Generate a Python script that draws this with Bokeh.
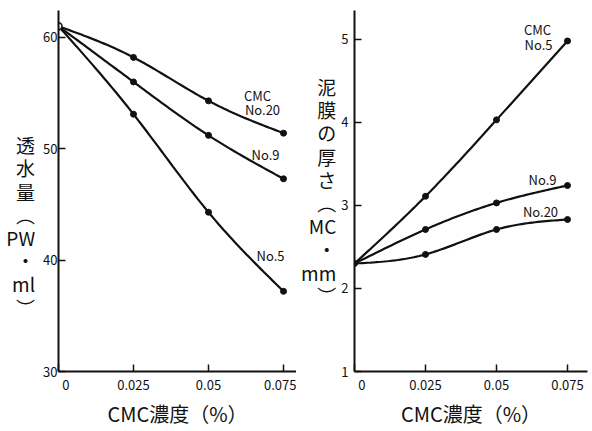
import numpy as np
from bokeh.plotting import figure
from bokeh.layouts import row
from bokeh.models import FixedTicker, Label, Range1d
from bokeh.embed import file_html
from bokeh.resources import INLINE

# ---------------- data ----------------
conc = [0.0, 0.025, 0.05, 0.075]
x_ticks = [0.0, 0.025, 0.05, 0.075]
x_tick_labels = ["\u00a0\u00a0\u00a0\u00a0\u00a00", "0.025", "0.05", "0.075"]

# left: 透水量 (PW・ml)
perm_no20 = [61.0, 58.2, 54.3, 51.4]
perm_no9 = [61.0, 56.0, 51.2, 47.3]
perm_no5 = [61.0, 53.1, 44.3, 37.2]
left_yticks = [30, 40, 50, 60]

# right: 泥膜の厚さ (MC・mm)
cake_no5 = [2.30, 3.11, 4.03, 4.98]
cake_no9 = [2.30, 2.71, 3.03, 3.24]
cake_no20 = [2.30, 2.41, 2.71, 2.83]
right_yticks = [1, 2, 3, 4, 5]

left_ylabel = ["\u3000", "\u3000", "\u3000", "透", "水", "量", "︵", "PW", "・", "ml", "︶"]
right_ylabel = ["泥", "膜", "の", "厚", "さ", "︵", "MC", "・", "mm", "︶"]
xlabel = "CMC濃度（%）"

JP = "Noto Sans CJK JP"
INK = "#111111"


def spline(xs, ys, n=80):
    xs = np.asarray(xs, float)
    ys = np.asarray(ys, float)
    m = len(xs)
    h = np.diff(xs)
    A = np.zeros((m, m))
    b = np.zeros(m)
    A[0, 0] = 1
    A[-1, -1] = 1
    for i in range(1, m - 1):
        A[i, i - 1] = h[i - 1]
        A[i, i] = 2 * (h[i - 1] + h[i])
        A[i, i + 1] = h[i]
        b[i] = 6 * ((ys[i + 1] - ys[i]) / h[i] - (ys[i] - ys[i - 1]) / h[i - 1])
    M = np.linalg.solve(A, b)
    xx = np.linspace(xs[0], xs[-1], n)
    yy = np.empty_like(xx)
    for k, x in enumerate(xx):
        i = min(np.searchsorted(xs, x, side="right") - 1, m - 2)
        t0 = xs[i + 1] - x
        t1 = x - xs[i]
        yy[k] = (M[i] * t0 ** 3 / (6 * h[i]) + M[i + 1] * t1 ** 3 / (6 * h[i])
                 + (ys[i] / h[i] - M[i] * h[i] / 6) * t0
                 + (ys[i + 1] / h[i] - M[i + 1] * h[i] / 6) * t1)
    return xx, yy


def style(p, yticks, ylabel, ystandoff, lstandoff):
    p.xaxis.ticker = FixedTicker(ticks=x_ticks)
    p.yaxis.ticker = FixedTicker(ticks=yticks)
    p.xaxis.major_label_overrides = {t: l for t, l in zip(x_ticks, x_tick_labels)}
    for ax in (p.xaxis[0], p.yaxis[0]):
        ax.axis_line_width = 2
        ax.axis_line_color = INK
        ax.major_tick_in = 7
        ax.major_tick_out = 0
        ax.major_tick_line_width = 1.5
        ax.major_tick_line_color = INK
        ax.minor_tick_in = 0
        ax.minor_tick_out = 0
        ax.major_label_text_font = JP
        ax.major_label_text_font_size = "13px"
        ax.major_label_text_color = INK
        ax.axis_label_text_font = JP
        ax.axis_label_text_font_style = "normal"
        ax.axis_label_text_color = INK
    p.xaxis.major_label_standoff = 3
    p.yaxis.major_label_standoff = ystandoff
    p.xaxis.axis_label = xlabel
    p.xaxis.axis_label_text_font_size = "20px"
    p.xaxis.axis_label_standoff = 2
    p.yaxis.axis_label = "\n".join(ylabel)
    p.yaxis.axis_label_orientation = "horizontal"
    p.yaxis.axis_label_text_font_size = "19px"
    p.yaxis.axis_label_text_line_height = 0.86
    p.yaxis.axis_label_text_align = "center"
    p.yaxis.axis_label_standoff = lstandoff
    p.xgrid.visible = False
    p.ygrid.visible = False
    p.outline_line_color = None


def curve(p, xs, ys):
    xx, yy = spline(xs, ys)
    p.line(xx, yy, line_width=2.2, line_color=INK)
    p.scatter(xs[1:], ys[1:], size=6, color=INK)


def lab(p, x, y, text, size="13px"):
    p.add_layout(Label(x=x, y=y, text=text, text_font=JP, text_font_size=size,
                       text_align="center", text_baseline="middle", text_color=INK))


H = 430

# ---------------- left ----------------
lx = lambda px: (px - 58) / 3000.0
ly = lambda py: 30 + (385 - py) / 11.57

left = figure(width=296, height=H, output_backend="svg", toolbar_location=None,
              x_range=Range1d(0, 238 / 3000.0), y_range=Range1d(30, 30 + 375 / 11.57),
              min_border_left=58, min_border_right=0, min_border_top=10, min_border_bottom=H - 385)
style(left, left_yticks, left_ylabel, 1, 5)
curve(left, conc, perm_no20)
curve(left, conc, perm_no9)
curve(left, conc, perm_no5)
left.scatter([conc[0]], [perm_no5[0]], size=7, fill_color="white", line_color=INK, line_width=1.5)

lab(left, lx(257), ly(98), "CMC")
lab(left, lx(262), ly(113), "No.20")
lab(left, lx(265), ly(160), "No.9")
lab(left, lx(270), ly(265), "No.5")

# ---------------- right ----------------
rx = lambda px: (px - 354) / 2840.0
ry = lambda py: 1 + (379 - py) / 86.5

right = figure(width=296, height=H, output_backend="svg", toolbar_location=None,
               x_range=Range1d(0, 233 / 2840.0), y_range=Range1d(1, 1 + 376 / 86.5),
               min_border_left=58, min_border_right=5, min_border_top=3, min_border_bottom=H - 379)
style(right, right_yticks, right_ylabel, 6, 2)
curve(right, conc, cake_no5)
curve(right, conc, cake_no9)
curve(right, conc, cake_no20)
right.scatter([conc[0]], [cake_no5[0]], size=6, color=INK)

lab(right, rx(537), ry(23), "CMC")
lab(right, rx(538), ry(38), "No.5")
lab(right, rx(542), ry(179), "No.9")
lab(right, rx(540), ry(212), "No.20")

layout = row(left, right)
open("out.html", "w").write(file_html(layout, INLINE))
